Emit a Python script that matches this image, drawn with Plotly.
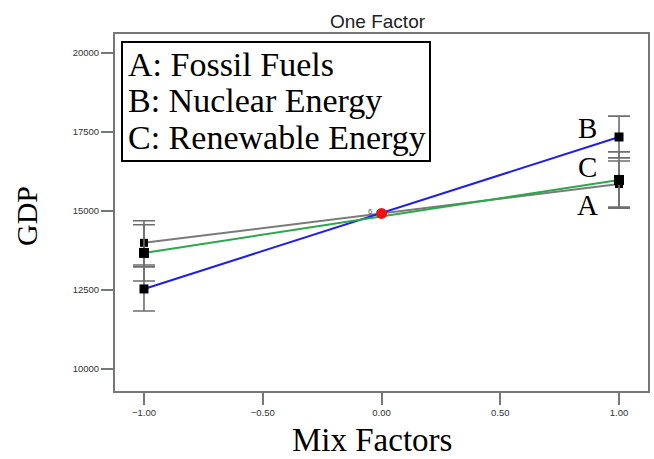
import plotly.graph_objects as go

levels = [-1.0, 1.0]
center_x = [0.0]
center_y = [14920]

series_names = ["A: Fossil Fuels", "B: Nuclear Energy", "C: Renewable Energy"]
series_short = ["A", "B", "C"]
fossil = [13990, 15850]
nuclear = [12530, 17340]
renewable = [13670, 15980]
fossil_err = [700, 730]
nuclear_err = [700, 660]
renewable_err = [890, 890]

x_ticks = [-1.0, -0.5, 0.0, 0.5, 1.0]
y_ticks = [10000, 12500, 15000, 17500, 20000]

colors = ["#7a7a7a", "#1f1fe6", "#2aa84a"]
msizes = [8, 9, 10]
values = [fossil, nuclear, renewable]
errors = [fossil_err, nuclear_err, renewable_err]

W, H = 654, 459
L, R, T, B = 115, 6, 34, 68
PW, PH = W - L - R, H - T - B


def px(xp):
    return (xp - L) / PW


def py(yp):
    return 1 - (yp - T) / PH


fig = go.Figure()

for vals, col in zip(values, colors):
    fig.add_trace(go.Scatter(
        x=[levels[0], center_x[0], levels[1]],
        y=[vals[0], (vals[0] + vals[1]) / 2, vals[1]],
        mode="lines", line=dict(color=col, width=2),
        showlegend=False, hoverinfo="skip"))

for vals, errs, ms in zip(values, errors, msizes):
    fig.add_trace(go.Scatter(
        x=levels, y=vals, mode="markers",
        marker=dict(symbol="square", size=ms, color="black"),
        error_y=dict(type="data", array=errs, visible=True,
                     color="#6e6e6e", thickness=1.6, width=11),
        showlegend=False))

fig.add_trace(go.Scatter(
    x=center_x, y=center_y, mode="markers",
    marker=dict(symbol="circle", size=11, color="#ee1111"),
    showlegend=False))

serif = "Liberation Serif, Times New Roman, serif"
sans = "Liberation Sans, Arial, sans-serif"

annotations = []
for i, name in enumerate(series_names):
    annotations.append(dict(
        xref="paper", yref="paper", x=px(126), y=py(64 + 36.5 * i),
        text=name, showarrow=False, xanchor="left", yanchor="middle",
        font=dict(family=serif, size=34, color="black")))

letter_pos = {"A": 15190, "B": 17640, "C": 16380}
for s in series_short:
    annotations.append(dict(
        x=0.869, y=letter_pos[s], xref="x", yref="y", text=s, showarrow=False,
        xanchor="center", yanchor="middle",
        font=dict(family=serif, size=29, color="black")))

annotations.append(dict(
    x=-0.045, y=14990, xref="x", yref="y", text="6", showarrow=False,
    font=dict(family=sans, size=8, color="#555")))

annotations.append(dict(
    xref="paper", yref="paper", x=px(378), y=py(22), text="One Factor",
    showarrow=False, xanchor="center", yanchor="middle",
    font=dict(family=sans, size=19, color="#222")))
annotations.append(dict(
    xref="paper", yref="paper", x=px(372), y=py(440), text="Mix Factors",
    showarrow=False, xanchor="center", yanchor="middle",
    font=dict(family=serif, size=33, color="black")))
annotations.append(dict(
    xref="paper", yref="paper", x=px(26), y=py(216), text="GDP",
    showarrow=False, xanchor="center", yanchor="middle", textangle=-90,
    font=dict(family=serif, size=30, color="black")))

fig.update_layout(
    width=W, height=H,
    margin=dict(l=L, r=R, t=T, b=B, autoexpand=False),
    paper_bgcolor="white", plot_bgcolor="white",
    annotations=annotations,
    shapes=[dict(type="rect", xref="paper", yref="paper",
                 x0=px(122), x1=px(430), y0=py(161), y1=py(42),
                 line=dict(color="black", width=2))],
    xaxis=dict(range=[-1.122, 1.122], tickvals=x_ticks, tickformat=".2f",
               ticks="outside", ticklen=12, tickwidth=1.5, tickcolor="#777",
               showline=True, linecolor="#777", linewidth=2, mirror=True,
               showgrid=False, zeroline=False, automargin=False,
               tickfont=dict(family=sans, size=9.5, color="#333")),
    yaxis=dict(range=[9300, 20600], tickvals=y_ticks, tickformat="d",
               ticks="outside", ticklen=12, tickwidth=1.5, tickcolor="#777",
               showline=True, linecolor="#777", linewidth=2, mirror=True,
               showgrid=False, zeroline=False, automargin=False,
               tickfont=dict(family=sans, size=9.5, color="#333")),
)

fig.write_html("out.html",
               config={"displayModeBar": False},
               post_script="document.body.style.margin='0';"
                           "document.body.style.padding='0';")
